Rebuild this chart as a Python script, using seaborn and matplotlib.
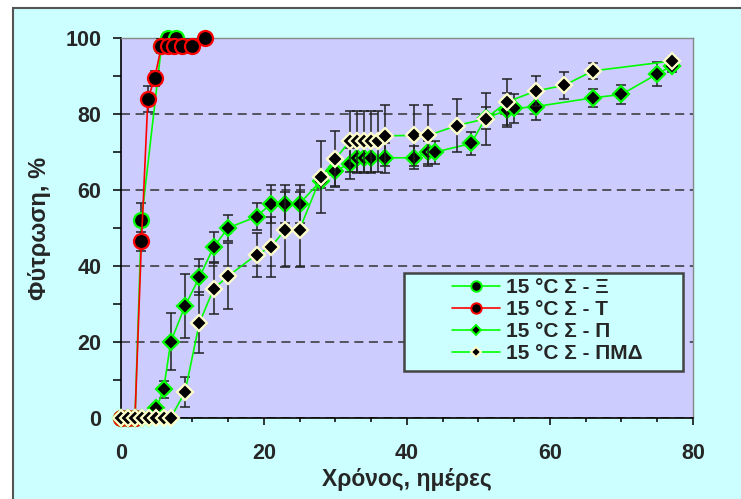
import numpy as np
import seaborn as sns
import matplotlib.pyplot as plt
from matplotlib.lines import Line2D
from matplotlib.patches import Rectangle
from matplotlib.ticker import MultipleLocator

# --- data (days, germination %, error) ---
xi_days = [0, 1, 2, 2.9, 5.7, 6.6, 7.8]
xi_vals = [0, 0, 0, 52, 98, 100, 100]
xi_err = [0, 0, 0, 4.5, 2, 0, 0]

t_days = [0, 1, 2, 2.9, 3.8, 4.75, 5.7, 6.6, 7.5, 8.5, 9.9, 11.8]
t_vals = [0, 0, 0, 46.5, 84, 89.5, 98, 98, 98, 98, 98, 100]
t_err = [0, 0, 0, 2.5, 3.5, 2, 2, 2, 2, 2, 2, 0]

p_days = [0, 1, 2, 3, 4, 5, 6, 7, 9, 11, 13, 15, 19, 21, 23, 25, 28, 30, 32,
          33, 34, 35, 37, 41, 43, 44, 49, 51, 54, 55, 58, 66, 70, 75, 77]
p_vals = [0, 0, 0, 0, 0, 2.5, 7.5, 20, 29.5, 37, 45, 50, 53, 56.4, 56.4, 56.4,
          62.5, 65, 67, 68.5, 68.5, 68.5, 68.5, 68.5, 70, 70, 72.3, 79, 81,
          81.5, 82, 84.3, 85.2, 90.6, 92.7]
p_err = [0, 0, 0, 0, 0, 1, 2.2, 7.5, 8.5, 4.7, 4, 3.3, 3.5, 5, 5, 5, 2, 4, 4,
         4, 4, 4, 4, 3, 3, 3, 3, 3, 4.5, 3.7, 3.5, 2.4, 2.4, 3.2, 1.5]

m_days = [0, 1, 2, 3, 4, 5, 6, 7, 9, 11, 13, 15, 19, 21, 23, 25, 28, 30, 32,
          33, 34, 35, 36, 37, 41, 43, 47, 51, 54, 58, 62, 66, 77]
m_vals = [0, 0, 0, 0, 0, 0, 0, 0, 6.8, 25, 34, 37.3, 43, 45, 49.6, 49.6, 63.5,
          68.2, 72.8, 72.8, 72.8, 72.8, 72.8, 74.3, 74.4, 74.4, 77, 78.8, 83.2,
          86.1, 87.6, 91.4, 94]
m_err = [0, 0, 0, 0, 0, 0, 0, 0, 3.9, 8, 6.7, 8.7, 5.8, 8, 10, 10, 9.5, 7.4, 8,
         8, 8, 8, 8, 8, 8, 8, 7, 6.8, 6, 4, 3.5, 2, 1]

labels = ['15 °C Σ - Ξ', '15 °C Σ - Τ', '15 °C Σ - Π', '15 °C Σ - ΠΜΔ']

GREEN = '#00FF00'
RED = '#FF0000'
CREAM = '#FFFFCC'

sns.set_style('ticks')
plt.rcParams['font.family'] = ['Liberation Sans', 'DejaVu Sans']
plt.rcParams['lines.scale_dashes'] = False

fig = plt.figure(figsize=(7.41, 4.99), dpi=100, facecolor='white')
fig.patches.append(Rectangle((12.7 / 741, -0.05), 1.1, 1.05 - 8.3 / 499,
                             transform=fig.transFigure, facecolor='#CCFFFF',
                             edgecolor='#555555', lw=1.5, zorder=-10))
ax = fig.add_axes([120.7 / 741, 1 - 417.7 / 499, 572.3 / 741, 379.4 / 499])
ax.set_facecolor('#CCCCFF')

series = [
    (xi_days, xi_vals, xi_err, GREEN, 'o', GREEN),
    (t_days, t_vals, t_err, RED, 'o', RED),
    (p_days, p_vals, p_err, GREEN, 'D', GREEN),
    (m_days, m_vals, m_err, GREEN, 'D', CREAM),
]

z = 3
for days, vals, err, lc, mk, ec in series:
    d = np.array(days, float)
    v = np.array(vals, float)
    e = np.array(err, float)
    has = e > 0
    ax.errorbar(d[has], v[has], yerr=e[has], fmt='none', ecolor='#222222',
                elinewidth=1.1, capsize=3.6, capthick=1.1, zorder=z)
    ms = 10.8 if mk == 'o' else 8.4
    sns.lineplot(x=d, y=v, ax=ax, color=lc, lw=1.2, marker=mk, ms=ms,
                 markerfacecolor='black', markeredgecolor=ec, markeredgewidth=1.6,
                 sort=False, errorbar=None, clip_on=False, zorder=z + 0.5)
    z += 1

ax.set_xlim(0, 80)
ax.set_ylim(0, 100)
ax.xaxis.set_major_locator(MultipleLocator(20))
ax.xaxis.set_minor_locator(MultipleLocator(5))
ax.yaxis.set_major_locator(MultipleLocator(20))
ax.yaxis.set_minor_locator(MultipleLocator(10))
ax.tick_params(axis='x', which='major', length=5, width=1.1, color='black', pad=13)
ax.tick_params(axis='x', which='minor', length=3, width=1.1, color='black')
ax.tick_params(axis='y', which='both', length=6, width=1.1, color='black', pad=8)
for lab in ax.get_xticklabels() + ax.get_yticklabels():
    lab.set_fontsize(15.5)
    lab.set_fontweight('bold')

ax.yaxis.grid(True, color='#333333', lw=1.1, linestyle=(0, (6.5, 4)))
ax.set_axisbelow(True)
for spine in ['left', 'bottom']:
    ax.spines[spine].set_color('black')
    ax.spines[spine].set_linewidth(1.2)
for spine in ['top', 'right']:
    ax.spines[spine].set_visible(True)
    ax.spines[spine].set_color('#888888')
    ax.spines[spine].set_linewidth(1.0)

ax.set_xlabel('Χρόνος, ημέρες', fontsize=16.5, fontweight='bold', labelpad=3)
ax.set_ylabel('Φύτρωση, %', fontsize=17, fontweight='bold', labelpad=10)

# legend box and entries
ax.add_patch(Rectangle((0.4948, 0.1238), 0.4878, 0.2567, transform=ax.transAxes,
                       facecolor='#CCFFFF', edgecolor='#444444', lw=1.8, zorder=20))
handles = [
    Line2D([], [], color=GREEN, lw=1.2, marker='o', ms=7.5, mfc='black', mec=GREEN, mew=1.4),
    Line2D([], [], color=RED, lw=1.2, marker='o', ms=7.5, mfc='black', mec=RED, mew=1.4),
    Line2D([], [], color=GREEN, lw=1.2, marker='D', ms=5.5, mfc='black', mec=GREEN, mew=1.4),
    Line2D([], [], color=GREEN, lw=1.2, marker='D', ms=5.5, mfc='black', mec=CREAM, mew=1.4),
]
leg = ax.legend(handles, labels, loc='center', bbox_to_anchor=(0.7457, 0.2557),
                frameon=False, borderpad=0, labelspacing=0.15, handlelength=2.3,
                handletextpad=0.3, prop={'size': 15, 'weight': 'bold'})
leg.set_zorder(21)

fig.savefig('out.png', dpi=100, facecolor=fig.get_facecolor())
